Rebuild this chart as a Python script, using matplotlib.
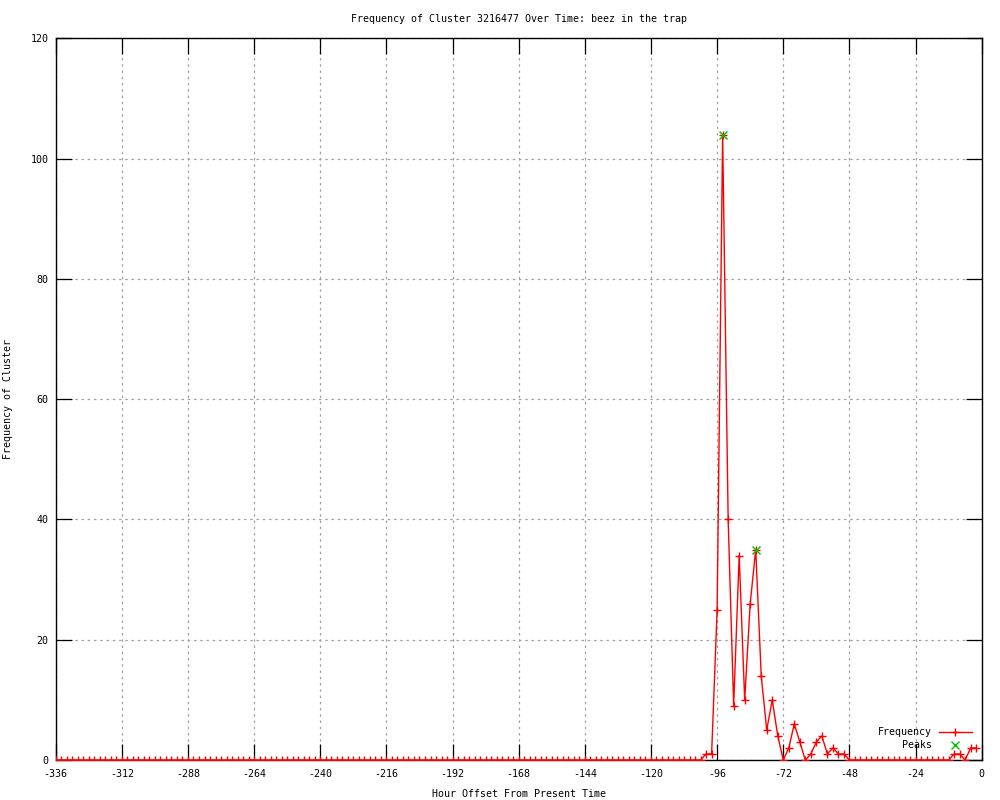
import matplotlib
matplotlib.use("Agg")
import matplotlib.pyplot as plt

plt.rcParams['font.family'] = ['DejaVu Sans Mono']
plt.rcParams['axes.unicode_minus'] = False

# Hours offset from present time (every 2 hours)
hours = list(range(-336, 0, 2))

# Frequency of cluster at each hour offset
frequency = [
    0, 0, 0, 0, 0, 0, 0, 0, 0, 0, 0, 0, 0, 0, 0, 0, 0, 0, 0, 0,
    0, 0, 0, 0, 0, 0, 0, 0, 0, 0, 0, 0, 0, 0, 0, 0, 0, 0, 0, 0,
    0, 0, 0, 0, 0, 0, 0, 0, 0, 0, 0, 0, 0, 0, 0, 0, 0, 0, 0, 0,
    0, 0, 0, 0, 0, 0, 0, 0, 0, 0, 0, 0, 0, 0, 0, 0, 0, 0, 0, 0,
    0, 0, 0, 0, 0, 0, 0, 0, 0, 0, 0, 0, 0, 0, 0, 0, 0, 0, 0, 0,
    0, 0, 0, 0, 0, 0, 0, 0, 0, 0, 0, 0, 0, 0, 0, 0, 0, 0,
    # -100 .. -50
    1, 1, 25, 104, 40, 9, 34, 10, 26, 35, 14, 5, 10, 4, 0, 2, 6, 3, 0, 1,
    3, 4, 1, 2, 1, 1,
    # -48 .. -12
    0, 0, 0, 0, 0, 0, 0, 0, 0, 0, 0, 0, 0, 0, 0, 0, 0, 0, 0,
    # -10 .. -2
    1, 1, 0, 2, 2,
]

peak_hours = [-94, -82]
peak_values = [104, 35]

x_ticks = list(range(-336, 1, 24))
y_ticks = list(range(0, 121, 20))

title = "Frequency of Cluster 3216477 Over Time: beez in the trap"
x_label = "Hour Offset From Present Time"
y_label = "Frequency of Cluster"

FS = 7.2

fig = plt.figure(figsize=(10, 8), dpi=100)
ax = fig.add_axes([0.0557, 0.05, 0.926, 0.9021])

ax.plot(hours, frequency, color='#ff0000', lw=1.0, marker='+',
        markersize=6, markeredgewidth=1.0, label='Frequency', zorder=3)
ax.plot(peak_hours, peak_values, linestyle='none', color='#00c000',
        marker='x', markersize=5.5, markeredgewidth=1.0, label='Peaks', zorder=4)

ax.set_xlim(-336, 0)
ax.set_ylim(0, 120)
ax.set_xticks(x_ticks)
ax.set_yticks(y_ticks)
ax.grid(True, color='#a0a0a0', linestyle=(0, (2, 3)), linewidth=0.9)

ax.tick_params(direction='in', length=11.5, width=0.9, colors='black',
               labelsize=FS, top=True, right=True)
ax.tick_params(axis='x', pad=6.5)
ax.tick_params(axis='y', pad=5.3)
for s in ax.spines.values():
    s.set_linewidth(1.0)
    s.set_color('black')

ax.set_title(title, fontsize=FS, pad=11.5)
ax.set_xlabel(x_label, fontsize=FS, labelpad=7)
ax.set_ylabel(y_label, fontsize=FS)
ax.yaxis.set_label_coords(-0.046, 0.5)

leg = ax.legend(loc='lower right', frameon=False, markerfirst=False,
                fontsize=FS, handlelength=3.3, handletextpad=0.7,
                labelspacing=0.3, borderaxespad=0.6, borderpad=0.4,
                bbox_to_anchor=(1.0, 0.0))

fig.savefig('out.png', dpi=100)
